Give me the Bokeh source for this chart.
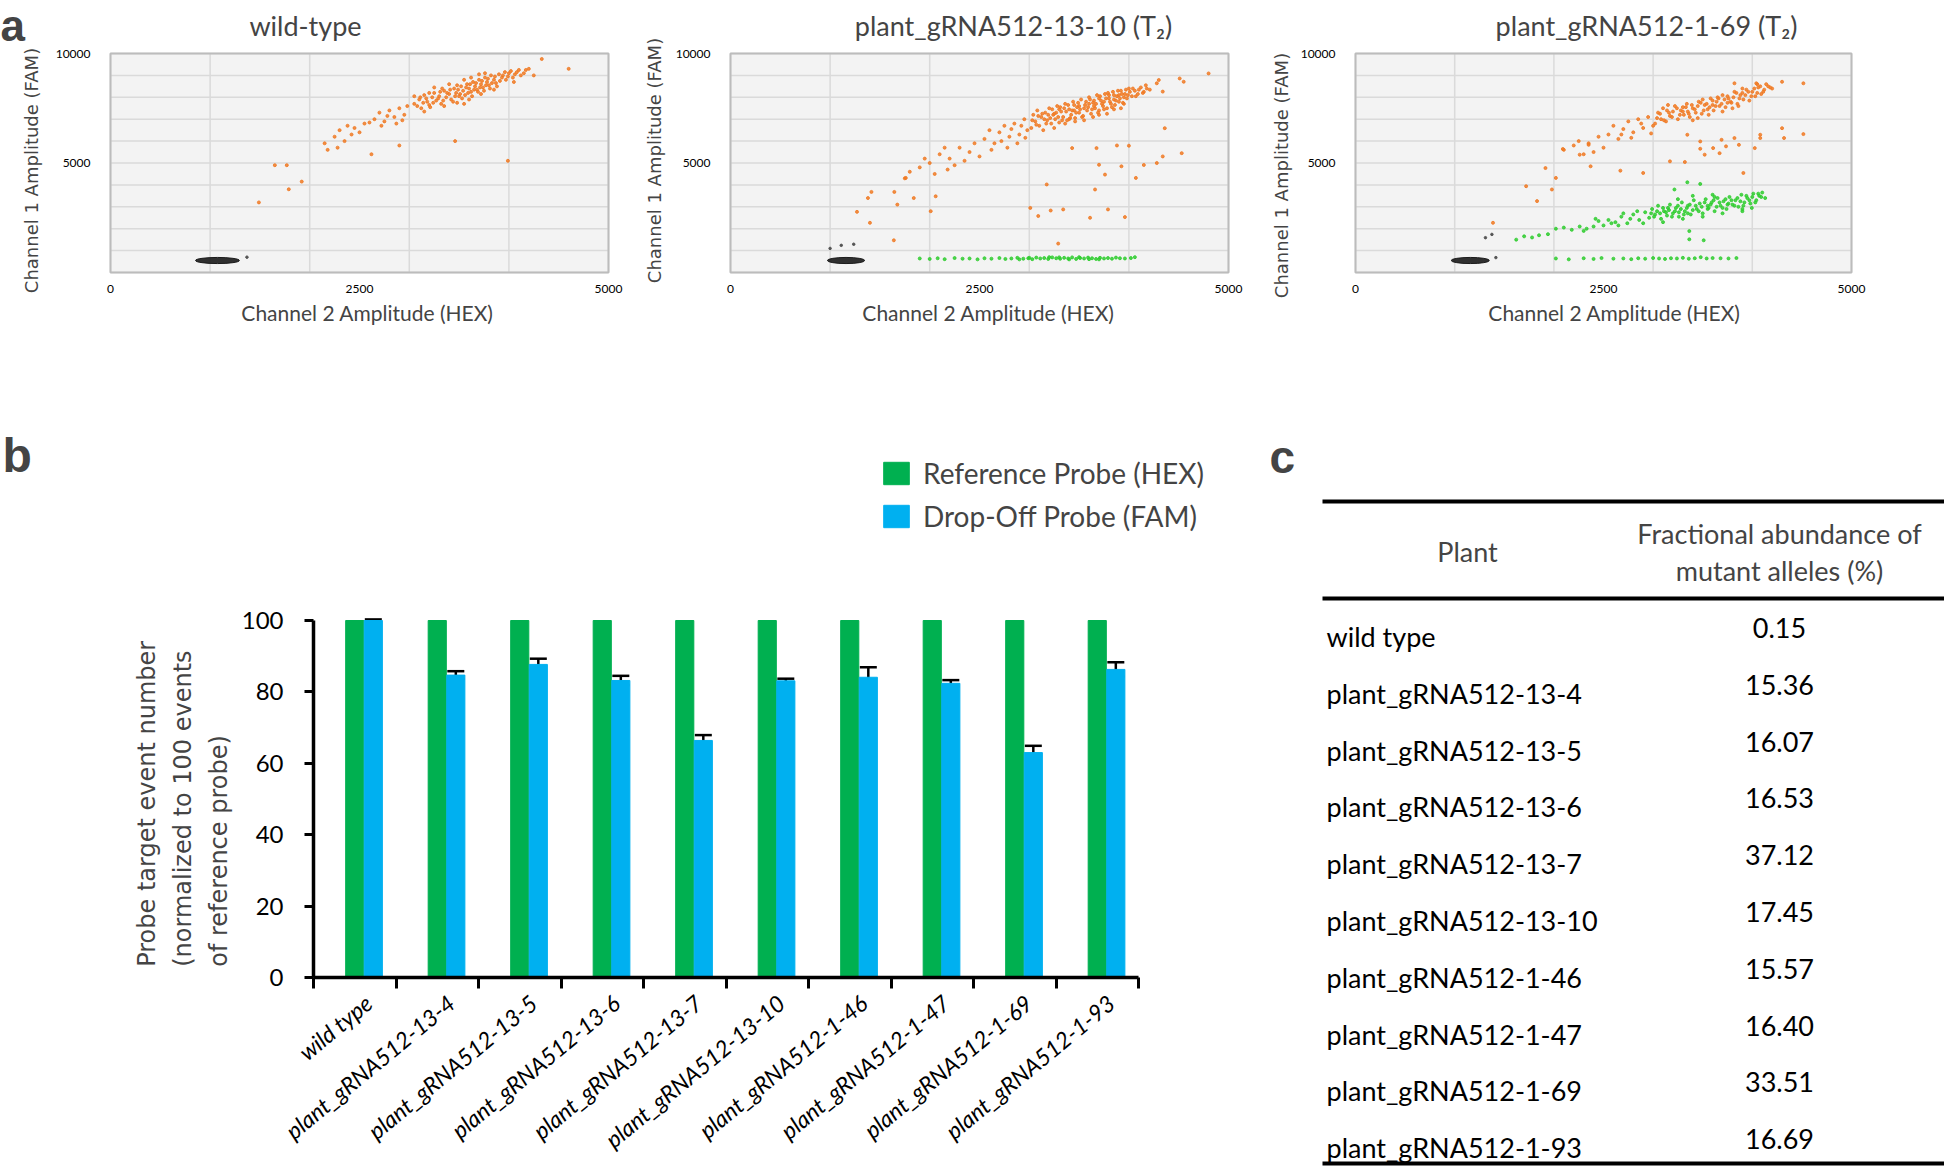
import math
from bokeh.plotting import figure
from bokeh.layouts import column, row
from bokeh.models import (Range1d, FixedTicker, Label, Legend, LegendItem, Whisker,
                          TeeHead, ColumnDataSource, LinearAxis)
from bokeh.transform import dodge
from bokeh.core.properties import value
from bokeh.embed import file_html
from bokeh.resources import INLINE

SANS = "Lato"
WIDE = "DejaVu Sans"
BOLD = "Liberation Sans"

# ------------------------------------------------------------------ data (a)
hex_ticks = [0, 2500, 5000]
fam_ticks = [5000, 10000]
hex_grid = [0, 1000, 2000, 3000, 4000, 5000]
fam_grid = [0, 1000, 2000, 3000, 4000, 5000, 6000, 7000, 8000, 9000, 10000]
hex_label = "Channel 2 Amplitude (HEX)"
fam_label = "Channel 1 Amplitude (FAM)"

panel_titles = ["wild-type", "plant_gRNA512-13-10 (T\u2082)", "plant_gRNA512-1-69 (T\u2082)"]

# negative-droplet clusters (centre, spread) per panel
neg_x = [1074, 1160, 1157]
neg_y = [548, 548, 548]
neg_w = [440, 375, 385]
neg_h = [280, 280, 280]

wt_orange = [
    (3050, 7700), (3100, 7900), (3120, 7500), (3150, 8100), (3180, 7800), (3200, 7650), (3230, 8000),
    (3250, 8200), (3270, 7850), (3300, 8050), (3320, 7700), (3350, 8300), (3370, 8000), (3400, 8150),
    (3420, 7900), (3450, 8400), (3470, 8200), (3500, 8050), (3520, 8500), (3540, 8300), (3560, 8100),
    (3580, 8600), (3600, 8400), (3620, 8250), (3640, 8700), (3660, 8500), (3680, 8350), (3700, 8800),
    (3720, 8600), (3740, 8450), (3760, 8900), (3780, 8700), (3800, 8550), (3820, 9000), (3850, 8800),
    (3870, 8650), (3900, 9050), (3930, 8900), (3960, 9150), (3990, 8950), (4020, 9200), (4060, 9050),
    (4100, 9250), (4150, 9100), (4200, 9300), (3350, 7600), (3480, 7750), (3600, 7900), (3720, 8150),
    (3850, 8350), (3250, 8450), (3400, 8600), (3550, 8800), (3700, 9050), (3150, 7350), (3050, 8050),
    (3080, 7600), (3110, 8000), (3140, 7750), (3170, 7950), (3210, 7550), (3240, 7750), (3290, 7950),
    (3310, 8250), (3340, 7850), (3380, 8200), (3410, 8350), (3440, 7800), (3460, 8050), (3490, 8350),
    (3510, 8150), (3530, 7950), (3570, 8450), (3590, 8200), (3610, 8600), (3630, 8050), (3650, 8350),
    (3670, 8650), (3690, 8250), (3710, 8450), (3730, 8750), (3750, 8300), (3770, 8550), (3790, 8850),
    (3810, 8400), (3830, 8650), (3860, 8950), (3880, 8500), (3910, 8750), (3940, 9000), (3970, 8800),
    (4000, 9100), (4040, 8900), (4080, 9150), (4120, 9000), (4170, 9250), (3620, 8900), (3760, 9100),
    (3480, 8550), (3330, 8400), (3200, 8200), (3550, 7700),
    (2650, 7000), (2700, 7300), (2750, 6900), (2800, 7400), (2850, 7100), (2900, 7500), (2950, 7200),
    (2980, 7600), (2720, 6700), (2870, 6800), (2930, 6950), (2600, 6850), (2780, 7150),
    (2250, 6200), (2300, 6500), (2350, 6000), (2380, 6700), (2420, 6300), (2450, 6600), (2500, 6400),
    (2550, 6800), (2280, 5700), (2150, 5900), (2180, 5600),
    (1650, 4900), (1770, 4900), (1920, 4150), (1790, 3800), (1490, 3200), (3990, 5100), (3460, 6000),
    (2900, 5800), (4330, 9750), (4600, 9300), (4250, 9000), (4050, 8700), (2620, 5400),
]
wt_green = []
wt_extra_neg = [(1370, 700)]

m1310_orange = [
    (3020, 6600), (3040, 7200), (3060, 6900), (3080, 7400), (3100, 6700), (3120, 7100), (3140, 6500),
    (3160, 7300), (3180, 6950), (3200, 7500), (3220, 6800), (3240, 7200), (3260, 7000), (3280, 7600),
    (3300, 6850), (3320, 7350), (3340, 7100), (3360, 7700), (3380, 6950), (3400, 7450), (3420, 7200),
    (3440, 7800), (3460, 7050), (3480, 7550), (3500, 7300), (3520, 7900), (3540, 7150), (3560, 7650),
    (3580, 7400), (3600, 8000), (3620, 7250), (3640, 7750), (3660, 7500), (3680, 8100), (3700, 7400),
    (3720, 7850), (3740, 7600), (3760, 8150), (3780, 7500), (3800, 7950), (3820, 7700), (3840, 8250),
    (3860, 7650), (3880, 8050), (3900, 7800), (3920, 8300), (3940, 7750), (3960, 8150), (3980, 7950),
    (4000, 8400), (4030, 8050), (4060, 8300), (4090, 8150), (4120, 8450), (4150, 8250), (4180, 8400),
    (3350, 7500), (3450, 7400), (3550, 7500), (3650, 7600), (3750, 7800), (3850, 7900), (3950, 8000),
    (3150, 7000), (3250, 7250), (3300, 7450), (3400, 7000), (3500, 7600), (3600, 7700), (3700, 7950),
    (3800, 8100), (3900, 8100), (3550, 6950), (3700, 7200), (3250, 6600), (3850, 7450),
    (3030, 6950), (3070, 6750), (3090, 7150), (3130, 7250), (3170, 6800), (3190, 7200), (3210, 7050),
    (3230, 7450), (3270, 7300), (3290, 7100), (3310, 7550), (3330, 6950), (3370, 7350), (3390, 7650),
    (3410, 7050), (3430, 7400), (3450, 7650), (3470, 7300), (3490, 7750), (3510, 7450), (3530, 7100),
    (3570, 7800), (3590, 7550), (3610, 7900), (3630, 7450), (3650, 7850), (3670, 7700), (3690, 7300),
    (3710, 8050), (3730, 7700), (3750, 7450), (3770, 7950), (3790, 8200), (3810, 7800), (3830, 7550),
    (3850, 8100), (3870, 7850), (3890, 8300), (3910, 7950), (3930, 8150), (3950, 7700), (3970, 8350),
    (3990, 8100), (4010, 8250), (4040, 8400), (4070, 8050), (4100, 8350), (4140, 8200), (4170, 8550),
    (4210, 8350), (3360, 6800), (3460, 6900), (3640, 7100), (3780, 7250), (3920, 7500),
    (2550, 6100), (2600, 6500), (2650, 5900), (2700, 6400), (2750, 6700), (2800, 6200), (2850, 6800),
    (2900, 6300), (2950, 7000), (2980, 6500), (2620, 5600), (2720, 6000), (2820, 6550), (2920, 6700),
    (2880, 5900), (2780, 5700), (2960, 6150),
    (2000, 5000), (2100, 5400), (2200, 5200), (2300, 5700), (2400, 5500), (2450, 5900), (2250, 4900),
    (2150, 5700), (1900, 4800), (1800, 4600), (1750, 4300), (2050, 4500), (2350, 5100), (2500, 5300),
    (1950, 5200), (2180, 4700),
    (3675, 5680), (3880, 5800), (4000, 5790), (3700, 4920), (3925, 4850), (4070, 4320), (3760, 4470),
    (4340, 5300), (4530, 5450), (4360, 6590), (3175, 4020), (3010, 2950), (3090, 2580), (3215, 2830),
    (3340, 2880), (3610, 2500), (3790, 2880), (3960, 2530), (3290, 1320), (3660, 3790), (4280, 5000),
    (4150, 4910), (3430, 5680), (4800, 9090), (4510, 8860), (4550, 8710), (4300, 8790), (4280, 8640),
    (4340, 8260), (1640, 1470), (1400, 2270), (1380, 3400), (1270, 2770), (1415, 3680), (1645, 3680),
    (1675, 3100), (1840, 3400), (2010, 2800), (2060, 3480), (1760, 4320),
]
m1310_green = [
    (1900, 640), (2000, 620), (2080, 650), (2150, 610), (2250, 660), (2330, 630), (2400, 640),
    (2480, 600), (2550, 650), (2620, 630), (2700, 660), (2760, 620), (2820, 640), (2880, 670),
    (2940, 630), (2990, 650), (3030, 610), (3070, 680), (3110, 640), (3150, 660), (3190, 620),
    (3230, 690), (3270, 650), (3310, 630), (3350, 670), (3390, 640), (3430, 690), (3470, 620),
    (3510, 660), (3550, 640), (3590, 680), (3630, 650), (3670, 620), (3710, 670), (3750, 640),
    (3790, 660), (3830, 630), (3870, 680), (3910, 650), (3960, 640), (4020, 660), (4060, 700),
    (3200, 700), (3400, 600), (3600, 610), (3300, 690), (3500, 700), (3700, 600), (3000, 670),
    (2900, 600),
]
m1310_extra_neg = [(1112, 1240), (1237, 1290), (1000, 1100)]

m169_orange = [
    (3020, 6800), (3050, 7300), (3080, 7000), (3100, 7500), (3130, 6900), (3160, 7300), (3190, 7100),
    (3220, 7600), (3250, 7000), (3280, 7400), (3310, 7200), (3340, 7700), (3370, 7100), (3400, 7500),
    (3430, 7300), (3460, 7800), (3490, 7250), (3520, 7650), (3550, 7450), (3580, 7950), (3610, 7400),
    (3640, 7800), (3670, 7600), (3700, 8100), (3730, 7550), (3760, 7950), (3790, 7750), (3820, 8250),
    (3850, 7700), (3880, 8100), (3910, 7900), (3940, 8350), (3970, 7850), (4000, 8250), (4030, 8050),
    (4060, 8450), (4090, 8150), (4120, 8350), (4160, 8500), (4200, 8400), (3300, 7550), (3450, 7050),
    (3600, 7650), (3750, 7750), (3900, 8200), (3500, 7900), (3650, 8000), (3800, 7500), (3350, 7350),
    (3150, 7650), (4050, 8600),
    (3040, 7050), (3070, 7250), (3110, 6950), (3140, 7400), (3170, 7150), (3200, 7350), (3240, 7500),
    (3270, 7200), (3300, 7350), (3330, 7550), (3360, 7250), (3390, 7650), (3420, 7450), (3450, 7600),
    (3480, 7750), (3510, 7400), (3540, 7700), (3570, 7550), (3600, 7850), (3630, 7600), (3660, 7950),
    (3690, 7700), (3720, 7900), (3750, 8050), (3780, 7800), (3810, 8000), (3840, 8200), (3870, 7950),
    (3900, 8400), (3930, 8100), (3960, 8250), (3990, 8050), (4020, 8400), (4050, 8200), (4080, 8500),
    (4110, 8250), (4140, 8600), (4180, 8450), (3560, 7200), (3700, 7350), (3860, 7600), (3400, 6950),
    (2550, 6300), (2600, 6700), (2650, 6100), (2700, 6550), (2750, 6900), (2800, 6400), (2850, 7000),
    (2900, 6600), (2950, 7100), (3000, 6700), (2680, 6300), (2780, 6150), (2880, 6800), (2980, 6350),
    (2100, 5600), (2200, 5800), (2300, 5400), (2350, 5900), (2450, 6200), (2500, 5700), (2250, 6000),
    (2400, 5500),
    (2090, 5640), (1915, 4770), (2020, 4320), (1830, 3260), (1720, 3940), (1980, 3790), (2370, 4850),
    (2670, 4650), (2900, 4545), (2260, 5380), (2350, 5830), (1386, 2270),
    (3475, 5985), (3605, 5680), (3690, 6060), (3735, 5760), (3820, 6140), (3865, 5830), (3670, 5450),
    (4080, 6290), (4080, 6140), (4300, 6590), (4320, 6140), (4515, 6320), (3170, 5075), (3320, 5045),
    (3345, 6290), (3475, 5650), (3910, 4545), (4025, 5680), (3520, 5380),
    (4300, 8710), (4515, 8640), (4040, 8640), (3820, 8640),
]
m169_green = [
    (2960, 2500), (2990, 2900), (3020, 2650), (3050, 3050), (3080, 2450), (3110, 2800), (3140, 2600),
    (3170, 3100), (3200, 2700), (3230, 2950), (3260, 2550), (3290, 3200), (3320, 2800), (3350, 3050),
    (3380, 2650), (3410, 3300), (3440, 2900), (3470, 3150), (3500, 2700), (3530, 3350), (3560, 2950),
    (3590, 3200), (3620, 2800), (3650, 3400), (3680, 3050), (3710, 3250), (3740, 2900), (3770, 3450),
    (3800, 3100), (3830, 3300), (3860, 3000), (3890, 3550), (3920, 3200), (3950, 3400), (3980, 3150),
    (4010, 3600), (4040, 3300), (4070, 3500), (4100, 3650), (4130, 3400), (3100, 2300), (3300, 2450),
    (3500, 2550), (3700, 2700), (3900, 2900), (3400, 3500), (3600, 3550), (3250, 3350), (3550, 3050),
    (3750, 3100), (3150, 2950), (3350, 2700),
    (2980, 2700), (3010, 2550), (3040, 2800), (3070, 2700), (3100, 2950), (3130, 2750), (3160, 2850),
    (3190, 2550), (3220, 2800), (3250, 3050), (3280, 2900), (3310, 2650), (3340, 2950), (3370, 3100),
    (3400, 2850), (3430, 3050), (3460, 2800), (3490, 3000), (3520, 3200), (3550, 2900), (3580, 3100),
    (3610, 3300), (3640, 3000), (3670, 3200), (3700, 2950), (3730, 3350), (3760, 3150), (3790, 3300),
    (3820, 3050), (3850, 3400), (3880, 3250), (3910, 3050), (3940, 3500), (3970, 3300), (4000, 3450),
    (4030, 3200), (4060, 3600), (4090, 3450), (3260, 2750), (3620, 3450),
    (2620, 2300), (2680, 2550), (2740, 2250), (2800, 2650), (2860, 2400), (2920, 2750), (2650, 2150),
    (2770, 2450), (2900, 2250), (2700, 2700), (2840, 2800),
    (2400, 2100), (2450, 2350), (2500, 2150), (2550, 2400), (2420, 2450), (2580, 2250),
    (2020, 2000), (2100, 2050), (2180, 1950), (2260, 2100), (2330, 2000), (2300, 1900),
    (1620, 1500), (1700, 1650), (1780, 1600), (1850, 1700), (1940, 1750),
    (3345, 4120), (3475, 4045), (3215, 3790), (3365, 1890), (3365, 1515), (3510, 1470), (3995, 2950),
    (3900, 2800),
    (2020, 640), (2150, 600), (2300, 650), (2400, 620), (2480, 660), (2600, 630), (2700, 640),
    (2780, 610), (2850, 650), (2920, 630), (3000, 660), (3060, 640), (3120, 620), (3180, 650),
    (3240, 640), (3300, 670), (3360, 630), (3420, 650), (3480, 700), (3540, 640), (3600, 660),
    (3680, 650), (3760, 640), (3840, 660),
]
m169_extra_neg = [(1310, 1590), (1375, 1740), (1415, 680)]

# ------------------------------------------------------------------ data (b, c)
plants = ["wild type", "plant_gRNA512-13-4", "plant_gRNA512-13-5", "plant_gRNA512-13-6",
          "plant_gRNA512-13-7", "plant_gRNA512-13-10", "plant_gRNA512-1-46", "plant_gRNA512-1-47",
          "plant_gRNA512-1-69", "plant_gRNA512-1-93"]
reference_probe = [100, 100, 100, 100, 100, 100, 100, 100, 100, 100]
dropoff_probe = [100.0, 84.7, 87.7, 83.2, 66.4, 83.1, 84.1, 82.4, 63.0, 86.3]
dropoff_err = [0.3, 1.1, 1.6, 1.3, 1.5, 0.6, 2.8, 0.9, 1.9, 2.0]
bar_ticks = [0, 20, 40, 60, 80, 100]
series_names = ["Reference Probe (HEX)", "Drop-Off Probe (FAM)"]
series_colors = ["#00b050", "#00b0f0"]
bar_ylabel = ["Probe target event number", "(normalized to 100 events", "of reference probe)"]

mutant_fraction = [0.15, 15.36, 16.07, 16.53, 37.12, 17.45, 15.57, 16.40, 33.51, 16.69]
table_header = ["Plant", "Fractional abundance of", "mutant alleles (%)"]

ORANGE = "#f07a24"
GREEN = "#2fcc2f"
NEG = "#1b1b1b"


def xs(pts):
    return [p[0] for p in pts]


def ys(pts):
    return [p[1] for p in pts]


def base_fig(width, height, x_range, y_range):
    p = figure(width=width, height=height, x_range=x_range, y_range=y_range,
               output_backend="svg", toolbar_location=None,
               x_axis_location=None, y_axis_location=None, min_border=0)
    p.title.visible = False
    p.outline_line_color = None
    p.grid.visible = False
    p.background_fill_color = "white"
    p.border_fill_color = "white"
    return p


# ------------------------------------------------------------------ panel a
TOP_H = 345
FR_T, FR_B = 53, 272       # plot-area top/bottom (px from figure top)


def scatter_panel(idx, width, fl, fr, orange, green, extra_neg, title_px, xlab_px, ylab_px, ylab_py,
                  letter=None):
    ux = (hex_ticks[-1] - hex_ticks[0]) / (fr - fl)
    uy = (fam_ticks[-1] - 0) / (FR_B - FR_T)

    def X(px):
        return (px - fl) * ux

    def Y(py):
        return (FR_B - py) * uy

    p = base_fig(width, TOP_H, Range1d(X(0), X(width)), Range1d(Y(TOP_H), Y(0)))

    # plot area
    p.quad(left=hex_grid[0], right=hex_grid[-1], bottom=fam_grid[0], top=fam_grid[-1],
           fill_color="#f3f3f3", line_color=None)
    p.segment(x0=hex_grid, y0=[fam_grid[0]] * len(hex_grid), x1=hex_grid, y1=[fam_grid[-1]] * len(hex_grid),
              line_color="#dadada", line_width=1.5)
    p.segment(x0=[hex_grid[0]] * len(fam_grid), y0=fam_grid, x1=[hex_grid[-1]] * len(fam_grid), y1=fam_grid,
              line_color="#dadada", line_width=1.5)
    p.quad(left=hex_grid[0], right=hex_grid[-1], bottom=fam_grid[0], top=fam_grid[-1],
           fill_color=None, line_color="#bcbcbc", line_width=2)

    # droplets
    p.ellipse(x=[neg_x[idx]], y=[neg_y[idx]], width=[neg_w[idx]], height=[neg_h[idx]],
              fill_color=NEG, line_color=NEG, fill_alpha=0.9)
    if extra_neg:
        p.scatter(xs(extra_neg), ys(extra_neg), size=2.5, color="#555555")
    if green:
        p.scatter(xs(green), ys(green), size=3, color=GREEN, alpha=0.85)
    p.scatter(xs(orange), ys(orange), size=3, color=ORANGE, alpha=0.85)

    # axes
    xa = LinearAxis(fixed_location=0, ticker=FixedTicker(ticks=hex_ticks))
    ya = LinearAxis(fixed_location=0, ticker=FixedTicker(ticks=fam_ticks))
    for ax in (xa, ya):
        ax.axis_line_color = None
        ax.major_tick_line_color = None
        ax.minor_tick_line_color = None
        ax.major_tick_out = 0
        ax.major_tick_in = 0
        ax.major_label_text_font = SANS
        ax.major_label_text_font_size = "12px"
        ax.major_label_text_color = "black"
    xa.major_label_standoff = 12
    ya.major_label_standoff = 20
    p.add_layout(xa, "below")
    p.add_layout(ya, "left")

    p.add_layout(Label(x=X(title_px), y=Y(25), text=panel_titles[idx], text_font=SANS,
                       text_font_size="27px", text_align="center", text_baseline="middle"))
    p.add_layout(Label(x=X(xlab_px), y=Y(312), text=hex_label, text_font=SANS,
                       text_font_size="21px", text_align="center", text_baseline="middle"))
    p.add_layout(Label(x=X(ylab_px), y=Y(ylab_py), text=fam_label, text_font=WIDE,
                       text_font_size="18px", text_align="center", text_baseline="middle",
                       angle=math.pi / 2))
    if letter:
        p.add_layout(Label(x=X(0), y=Y(0), text=letter, text_font=BOLD, text_font_style="bold",
                           text_font_size="44px", text_align="left", text_baseline="top"))
    return p


a1 = scatter_panel(0, 640, 110, 608, wt_orange, wt_green, wt_extra_neg, 305, 367, 31, 170, "a")
a2 = scatter_panel(1, 628, 90, 588, m1310_orange, m1310_green, m1310_extra_neg, 373, 348, 14, 160)
a3 = scatter_panel(2, 676, 87, 583, m169_orange, m169_green, m169_extra_neg, 378, 346, 13, 175)

# ------------------------------------------------------------------ panel b
BOT_H = 822
B_W = 1240
B_X0 = 313          # px of first group boundary
B_GW = 82.5         # px per group
B_SHIFT = 0.17      # label position relative to group centre (groups)
B_Y0 = 632          # px (from figure top) of value 0
B_UY = 3.57         # px per unit
B_LEFT = -B_SHIFT - 0.5


def BX(px):
    return B_LEFT + (px - B_X0) / B_GW


def BY(py):
    return (B_Y0 - py) / B_UY


n = len(plants)
bar_src = ColumnDataSource(dict(
    idx=list(range(n)), ref=reference_probe, drop=dropoff_probe,
    upper=[v + e for v, e in zip(dropoff_probe, dropoff_err)],
    lower=[v - e for v, e in zip(dropoff_probe, dropoff_err)],
))

pb = base_fig(B_W, BOT_H, Range1d(BX(0), BX(B_W)), Range1d(BY(BOT_H), BY(0)))

r_ref = pb.vbar(x=dodge("idx", -B_SHIFT), top="ref", width=0.22, source=bar_src,
                fill_color=series_colors[0], line_color=series_colors[0])
r_drop = pb.vbar(x=dodge("idx", -B_SHIFT + 0.225), top="drop", width=0.22, source=bar_src,
                 fill_color=series_colors[1], line_color=series_colors[1])
pb.add_layout(Whisker(source=bar_src, base=dodge("idx", -B_SHIFT + 0.225), upper="upper", lower="lower",
                      line_width=2.5, line_color="black",
                      upper_head=TeeHead(size=17, line_width=2.5, line_color="black"),
                      lower_head=TeeHead(size=17, line_width=2.5, line_color="black")))

bxa = LinearAxis(fixed_location=0, bounds=(B_LEFT, B_LEFT + n),
                 ticker=FixedTicker(ticks=list(range(n)),
                                    minor_ticks=[B_LEFT + i for i in range(n + 1)]))
bxa.major_label_overrides = {i: plants[i] for i in range(n)}
bxa.major_label_orientation = 0.69
bxa.major_tick_line_color = None
bxa.major_tick_out = 0
bxa.major_tick_in = 0
bxa.minor_tick_line_color = "black"
bxa.minor_tick_line_width = 3
bxa.minor_tick_out = 11
bxa.minor_tick_in = 0
bxa.major_label_standoff = 11
bxa.major_label_text_font_style = "italic"
bxa.major_label_text_font_size = "23px"

bya = LinearAxis(fixed_location=B_LEFT, bounds=(0, 100), ticker=FixedTicker(ticks=bar_ticks))
bya.major_tick_out = 9
bya.major_tick_in = 0
bya.minor_tick_line_color = None
bya.major_tick_line_width = 3
bya.major_label_standoff = 21
bya.major_label_text_font_size = "24px"
for ax in (bxa, bya):
    ax.axis_line_width = 3.5
    ax.axis_line_color = "black"
    ax.major_label_text_font = SANS
    ax.major_label_text_color = "black"
pb.add_layout(bxa, "below")
pb.add_layout(bya, "left")

legend = Legend(items=[LegendItem(label=series_names[0], renderers=[r_ref]),
                       LegendItem(label=series_names[1], renderers=[r_drop])],
                location=(880, 634), glyph_width=32, glyph_height=28, label_height=28,
                label_standoff=11, spacing=9, padding=0, margin=0,
                label_text_font=SANS, label_text_font_size="28px",
                border_line_color=None, background_fill_alpha=0)
pb.add_layout(legend)

for lx, txt in zip([146, 182, 218], bar_ylabel):
    pb.add_layout(Label(x=BX(lx), y=3, text=txt, text_font=WIDE, text_font_size="24px",
                        angle=math.pi / 2, text_align="left", text_baseline="middle"))
pb.add_layout(Label(x=BX(2), y=BY(110), text="b", text_font=BOLD, text_font_style="bold",
                    text_font_size="48px", text_align="left", text_baseline="alphabetic"))

# ------------------------------------------------------------------ panel c
C_W = 704
C_ROW0 = 291        # px (from figure top) of first data row
C_ROWH = 56.8       # px per row


def CY(py):
    return (py - C_ROW0) / C_ROWH


tab_src = ColumnDataSource(dict(row=list(range(n)), plant=plants,
                                val=["%.2f" % v for v in mutant_fraction]))
pt = base_fig(C_W, BOT_H, Range1d(0, C_W), Range1d(CY(BOT_H), CY(0)))
pt.text(x=86, y="row", text="plant", source=tab_src, text_font=value(SANS), text_font_size="27px",
        text_align="left", text_baseline="middle", text_color="black")
pt.text(x=539, y=dodge("row", -0.15), text="val", source=tab_src, text_font=value(SANS),
        text_font_size="27px", text_align="center", text_baseline="middle", text_color="black")
rules = [CY(156), CY(253), CY(818)]
pt.segment(x0=[82] * 3, x1=[C_W] * 3, y0=rules, y1=rules, line_color="black", line_width=4)
pt.add_layout(Label(x=227, y=CY(206), text=table_header[0], text_font=SANS, text_font_size="27px",
                    text_align="center", text_baseline="middle"))
pt.add_layout(Label(x=539, y=CY(188), text=table_header[1], text_font=SANS, text_font_size="27px",
                    text_align="center", text_baseline="middle"))
pt.add_layout(Label(x=539, y=CY(225), text=table_header[2], text_font=SANS, text_font_size="27px",
                    text_align="center", text_baseline="middle"))
pt.add_layout(Label(x=29, y=CY(111), text="c", text_font=BOLD, text_font_style="bold",
                    text_font_size="46px", text_align="left", text_baseline="alphabetic"))

layout = column(row(a1, a2, a3), row(pb, pt))
open("out.html", "w").write(file_html(layout, INLINE))
